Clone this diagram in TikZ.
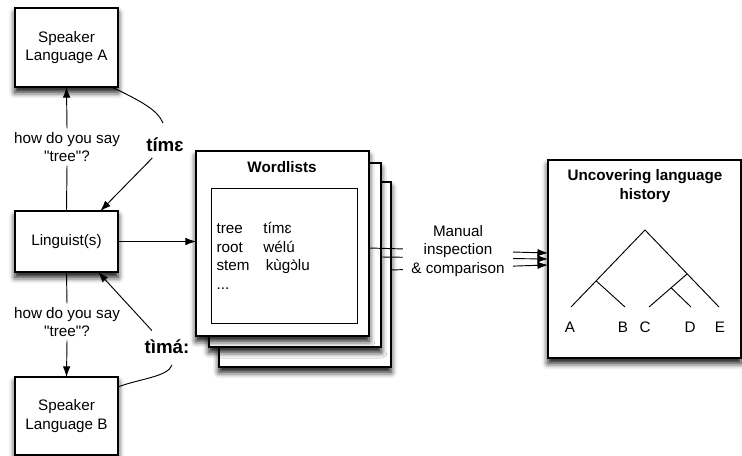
\documentclass[tikz,border=0pt]{standalone}
\usepackage{fontspec}
\setmainfont{Liberation Sans}
\usetikzlibrary{arrows.meta,calc,shadows.blur}

\tikzset{
  box/.style={draw,line width=1pt,fill=white,inner sep=0pt,outer sep=0pt,align=center,
    blur shadow={shadow xshift=0pt,shadow yshift=-4.5pt,shadow opacity=95,shadow blur radius=5pt}},
  lbl/.style={align=center,inner sep=3pt},
  ttl/.style={font=\fontsize{13}{16}\selectfont\bfseries,align=center},
  word/.style={font=\fontsize{16}{18}\selectfont\bfseries,inner sep=2pt},
  arr/.style={line width=0.8pt,-{Latex[length=9pt,width=6.5pt]}},
  ln/.style={line width=0.8pt}
}

\begin{document}
\begin{tikzpicture}[x=0.03cm,y=-0.03cm,font=\fontsize{13}{16}\selectfont]
        \useasboundingbox (0,0) rectangle (742,456);
        % speakers and linguist
        \node[box,minimum width=3.09cm,minimum height=2.37cm] (speakerA) at (66.5,47.5) {Speaker\\Language A};
        \node[box,minimum width=3.09cm,minimum height=1.83cm] (linguist) at (66.5,241.5) {Linguist(s)};
        \node[box,minimum width=3.09cm,minimum height=2.34cm] (speakerB) at (66.5,416) {Speaker\\Language B};
        \node[lbl] (askA) at (67,147) {how do you say\\\textquotedbl tree\textquotedbl?};
        \node[lbl] (askB) at (67,322) {how do you say\\\textquotedbl tree\textquotedbl?};
        \node[word] (wordA) at (165,145) {tímɛ};
        \node[word] (wordB) at (167,347) {tìmá:};
        \coordinate (tailA) at (163,123);
        \coordinate (tailB) at (172,365);
        \draw[ln] (linguist.north) -- (askA.south);
        \draw[arr] (askA.north) -- (speakerA.south);
        \draw[ln] (linguist.south) -- (askB.north);
        \draw[arr] (askB.south) -- (speakerB.north);
        \draw[ln] ($(speakerA.south east)+(-6,0)$) .. controls +(28,14) and +(-6,-14) .. (tailA);
        \draw[ln] ($(speakerB.north east)+(0,10)$) .. controls +(20,-8) and +(-4,12) .. (tailB);
        \draw[arr,shorten <=4pt] (wordA) -- (linguist.42);
        \draw[arr,shorten <=8pt] (wordB) -- (linguist.-44);
        % wordlists
        \node[box,minimum width=5.16cm,minimum height=5.55cm] (wl3) at (305,274.5) {};
        \node[box,minimum width=5.16cm,minimum height=5.52cm] (wl2) at (295,255) {};
        \node[box,minimum width=5.19cm,minimum height=5.55cm] (wl1) at (282.5,243.5) {};
        \node[ttl] (wltitle) at (282,167) {Wordlists};
        \node[draw,line width=0.8pt,minimum width=4.38cm,minimum height=4.05cm] (inner) at (284,255.5) {};
        \node[anchor=west,align=left,inner sep=2pt] (words) at (214,256)
          {\makebox[40pt][l]{tree}tímɛ\\\makebox[40pt][l]{root}wélú\\\makebox[42pt][l]{stem}kùgɔ̀lu\\...};
        \draw[arr] (linguist.east) -- (linguist.east -| wl1.west);
        % history
        \node[box,minimum width=5.79cm,minimum height=5.94cm] (history) at (644.5,259) {};
        \node[ttl] (histtitle) at (645,186) {Uncovering language\\history};
        \draw[arr] ($(wl1.east)+(0,4.5)$) -- ($(history.west)+(0,-6)$);
        \draw[arr] ($(wl2.east)+(0,2)$) -- (history.west);
        \draw[arr] ($(wl3.east)+(0,-4.5)$) -- ($(history.west)+(0,6)$);
        \node[lbl,fill=white,inner xsep=7pt,inner ysep=1pt] (manual) at (458,251) {Manual\\inspection\\\& comparison};
        % tree
        \coordinate (root) at (645,230);
        \coordinate (leafA) at (571,307);
        \coordinate (leafB) at (625,307);
        \coordinate (leafC) at (649,307);
        \coordinate (leafD) at (691,307);
        \coordinate (leafE) at (719,307);
        \coordinate (nAB) at ($(root)!0.66!(leafA)$);
        \coordinate (nCDE) at ($(root)!0.57!(leafE)$);
        \coordinate (nCD) at ($(nCDE)!0.42!(leafC)$);
        \draw[ln] (leafA) -- (root) -- (leafE);
        \draw[ln] (nAB) -- (leafB);
        \draw[ln] (nCDE) -- (leafC);
        \draw[ln] (nCD) -- (leafD);
        \node (labA) at (570,327) {A};
        \node (labB) at (623,327) {B};
        \node (labC) at (645,327) {C};
        \node (labD) at (690,327) {D};
        \node (labE) at (720,327) {E};
    \end{tikzpicture}
\end{document}
